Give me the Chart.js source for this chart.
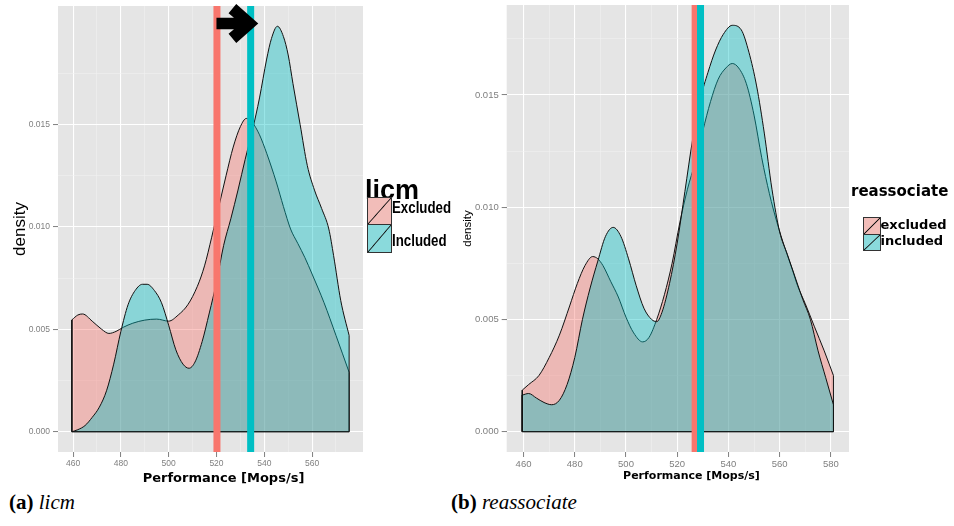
<!DOCTYPE html>
<html><head><meta charset="utf-8">
<script src="https://cdn.jsdelivr.net/npm/chart.js@4.4.1/dist/chart.umd.min.js"></script>
<style>
html,body{margin:0;padding:0;background:#fff;width:954px;height:526px;overflow:hidden;position:relative}
canvas{position:absolute}
.t{position:absolute;white-space:nowrap;line-height:1;color:#000}
.xt{font-family:"DejaVu Sans";font-weight:bold;transform:translateX(-50%)}
.cap{font-family:"Liberation Serif","Times New Roman",serif;font-size:21px}
.key{position:absolute;box-sizing:border-box;border:1px solid #333}
</style></head><body>
<canvas id="c1" width="440" height="486" style="left:0;top:0;width:440px;height:486px"></canvas>
<canvas id="c2" width="514" height="486" style="left:440px;top:0;width:514px;height:486px"></canvas>

<div class="t xt" style="left:223.5px;top:471px;font-size:13px">Performance [Mops/s]</div>
<div class="t xt" style="left:691.5px;top:470.2px;font-size:11px">Performance [Mops/s]</div>

<div class="t" style="left:365px;top:177px;font-family:'Liberation Sans';font-weight:bold;font-size:27px">licm</div>
<div id="k1a" class="key" style="left:366.5px;top:197px;width:25px;height:28px"></div>
<div id="k1b" class="key" style="left:366.5px;top:224px;width:25px;height:29px"></div>
<div class="t" style="left:392px;top:199.8px;font-family:'Liberation Sans';font-weight:bold;font-size:16px;transform:scaleX(0.83);transform-origin:0 0">Excluded</div>
<div class="t" style="left:392px;top:233.2px;font-family:'Liberation Sans';font-weight:bold;font-size:16px;transform:scaleX(0.83);transform-origin:0 0">Included</div>

<div class="t" style="left:851px;top:184px;font-family:'DejaVu Sans';font-weight:bold;font-size:15px">reassociate</div>
<div id="k2a" class="key" style="left:863px;top:217px;width:18px;height:18px"></div>
<div id="k2b" class="key" style="left:863px;top:234px;width:18px;height:17px"></div>
<div class="t" style="left:880.5px;top:218px;font-family:'DejaVu Sans';font-weight:bold;font-size:13px">excluded</div>
<div class="t" style="left:880.5px;top:234px;font-family:'DejaVu Sans';font-weight:bold;font-size:13px">included</div>

<div class="t cap" style="left:9px;top:491.7px"><b>(a)</b> <i>licm</i></div>
<div class="t cap" style="left:451px;top:491.7px"><b>(b)</b> <i>reassociate</i></div>

<script>
// ---------------- data: licm ----------------
const licmExcludedX = [459.5,462,464,468,472,475,478,481,485,490,495,500,504,508,512,515,518,521,524,527,530,532.5,535,538,541,545,548,551,554,557,560,565,570,575.5];
const licmExcludedY = [0.00546,0.0057,0.00575,0.0054,0.0050,0.0048,0.0049,0.0051,0.0053,0.00545,0.0055,0.0054,0.0057,0.0062,0.0071,0.0081,0.0095,0.0110,0.0125,0.0139,0.0149,0.0153,0.0151,0.0145,0.0136,0.0122,0.0110,0.0099,0.0092,0.0085,0.0077,0.0063,0.0047,0.0029];
const licmIncludedX = [459.5,462,465,468,471,474,477,480,483,486,489,491,494,497,500,503,506,508.5,511,514,517,520,523,526,529,532,535,538,541,543,545.5,548,550,552,555,558,561,564,567,569,572,575.5];
const licmIncludedY = [0,0.0001,0.0003,0.0007,0.0012,0.0020,0.0033,0.0049,0.0062,0.0069,0.0072,0.0072,0.0069,0.0063,0.0052,0.0040,0.0033,0.0031,0.0034,0.0044,0.0058,0.0073,0.0091,0.0104,0.0118,0.0133,0.0147,0.0163,0.0182,0.0192,0.0198,0.0193,0.0184,0.0170,0.0150,0.0130,0.0118,0.0109,0.0099,0.0086,0.0064,0.0047];
const licmMeans = [520.2, 534.3];

// ---------------- data: reassociate ----------------
const reasExcludedX = [459.5,462,466,470,474,478,481,484,487,489,491,494,497,500,503,506.5,509,512,515,518,521,524,527,530,533,536,539,541.5,544,547,550,553,556,559,562,565,567,570,573.5,577.4,581];
const reasExcludedY = [0.00185,0.0021,0.0025,0.0033,0.0043,0.0056,0.0066,0.0074,0.0078,0.0077,0.0074,0.0067,0.0060,0.0051,0.0044,0.0040,0.0042,0.0050,0.0061,0.0075,0.0093,0.0108,0.0120,0.0134,0.0147,0.0157,0.0162,0.0164,0.0162,0.0155,0.0141,0.0122,0.0106,0.0093,0.0082,0.0072,0.0065,0.0057,0.0047,0.0036,0.0025];
const reasIncludedX = [459.5,462,465,468,471,474,477,480,483,486,489,492,495,498,501,504,507,510,512,514,517,520,523,526,529,532,535,538,541.5,545,548,551,554,557,560,563,566,569,572,575,578,581];
const reasIncludedY = [0.00163,0.0017,0.0015,0.0013,0.0012,0.0014,0.0021,0.0033,0.0050,0.0064,0.0076,0.0087,0.0091,0.0087,0.0077,0.0065,0.0055,0.0050,0.0049,0.0053,0.0066,0.0084,0.0107,0.0130,0.0148,0.0160,0.0170,0.0177,0.0181,0.0179,0.0169,0.0154,0.0133,0.0108,0.0089,0.0079,0.0069,0.0059,0.0050,0.0036,0.0024,0.0012];
const reasMeans = [527.0, 529.1];

// ---------------- tick labels ----------------
const licmXMajor = [460,480,500,520,540,560];
const licmXMinor = [470,490,510,530,550,570];
const reasXMajor = [460,480,500,520,540,560,580];
const reasXMinor = [470,490,510,530,550,570];
const yMajor = [0,0.005,0.010,0.015];
const yMinor = [0.0025,0.0075,0.0125,0.0175];

const groupNames = ['Excluded','Included'];
const fillColors = ['rgba(248,118,109,0.4)','rgba(0,191,196,0.4)'];
const lineColors = ['#F8766D','#00BFC4'];
const keyColors = ['#F2BDB9','#8ADADC'];

const has = (arr, v) => arr.some(a => Math.abs(a - v) < 1e-9);

const panelBg = {
  id: 'panelBg',
  beforeDraw(chart) {
    const {ctx, chartArea: a} = chart;
    ctx.save();
    ctx.fillStyle = '#E5E5E5';
    ctx.fillRect(a.left, a.top, a.right - a.left, a.bottom - a.top);
    ctx.restore();
  }
};

const arrowPlugin = {
  id: 'arrow',
  afterDatasetsDraw(chart) {
    if (!chart.options.plugins.arrow || !chart.options.plugins.arrow.show) return;
    const {ctx, chartArea: a, scales: {x}} = chart;
    const s = x.getPixelForValue(licmMeans[0]) - 0.5;
    const t = x.getPixelForValue(licmMeans[1]) + 7.6;
    const yc = a.top + 17.5;
    ctx.save();
    ctx.fillStyle = '#000';
    ctx.beginPath();
    ctx.moveTo(s, yc - 5.8);
    ctx.lineTo(t - 24.3, yc - 5.8);
    ctx.lineTo(t - 29.7, yc - 10.3);
    ctx.lineTo(t - 22, yc - 19.5);
    ctx.lineTo(t, yc);
    ctx.lineTo(t - 22, yc + 19.5);
    ctx.lineTo(t - 29.7, yc + 10.3);
    ctx.lineTo(t - 24.3, yc + 5.8);
    ctx.lineTo(s, yc + 5.8);
    ctx.closePath();
    ctx.fill();
    ctx.restore();
  }
};

function ggDensity(id, o) {
  const allX = o.series.flatMap(s => s.x);
  const allY = o.series.flatMap(s => s.y);
  const xmin = Math.min(...allX), xmax = Math.max(...allX), ymax = Math.max(...allY);
  const xr = xmax - xmin;
  const xLo = xmin - 0.05 * xr, xHi = xmax + 0.05 * xr;
  const yLo = -0.05 * ymax, yHi = ymax * 1.05;

  const datasets = [];
  o.series.forEach((s, i) => {
    const n = s.x.length;
    datasets.push({
      label: groupNames[i],
      data: s.x.map((x, j) => ({x, y: s.y[j]})),
      fill: 'origin', backgroundColor: fillColors[i],
      borderColor: '#111', borderWidth: 1, pointRadius: 0,
      cubicInterpolationMode: 'monotone', order: 10 - 2 * i
    });
    datasets.push({
      label: groupNames[i] + ' outline',
      data: [{x: s.x[0], y: s.y[0]}, {x: s.x[0], y: 0}, {x: s.x[n - 1], y: 0}, {x: s.x[n - 1], y: s.y[n - 1]}],
      fill: false, borderColor: '#111', borderWidth: 1, pointRadius: 0, tension: 0, order: 9 - 2 * i
    });
  });
  o.means.forEach((m, i) => {
    datasets.push({
      label: groupNames[i] + ' mean',
      data: [{x: m, y: yLo}, {x: m, y: yHi}],
      fill: false, borderColor: lineColors[i], borderWidth: 7, borderCapStyle: 'butt',
      pointRadius: 0, tension: 0, order: 1 - i
    });
  });

  const tickFont = {family: '"Liberation Sans", Arial, sans-serif', size: o.tickSize};
  const gridColor = (maj) => (c => (c.tick && has(maj, c.tick.value)) ? '#FFFFFF' : '#F2F2F2');
  const gridWidth = (maj) => (c => (c.tick && has(maj, c.tick.value)) ? 1.1 : 0.55);
  const tickCol = (maj) => (c => (c.tick && has(maj, c.tick.value)) ? '#7F7F7F' : 'rgba(0,0,0,0)');

  return new Chart(document.getElementById(id), {
    type: 'line',
    data: {datasets},
    plugins: [panelBg, arrowPlugin],
    options: {
      responsive: false, animation: false, events: [],
      layout: {autoPadding: false, padding: {left: 0, right: o.padRight, top: o.padTop, bottom: 0}},
      plugins: {legend: {display: false}, tooltip: {enabled: false}, arrow: {show: !!o.arrow}},
      scales: {
        x: {
          type: 'linear', min: xLo, max: xHi,
          afterBuildTicks: sc => { sc.ticks = [...o.xMajor, ...o.xMinor].filter(v => v >= xLo && v <= xHi).sort((a, b) => a - b).map(v => ({value: v})); },
          afterFit: sc => { sc.height = 34; sc.paddingLeft = 0; sc.paddingRight = 0; },
          ticks: {autoSkip: false, maxRotation: 0, minRotation: 0, padding: 2, color: '#7F7F7F', font: tickFont,
                  callback: v => has(o.xMajor, v) ? String(v) : ''},
          grid: {color: gridColor(o.xMajor), lineWidth: gridWidth(o.xMajor), tickColor: tickCol(o.xMajor), tickWidth: 1, tickLength: 5},
          border: {display: false}
        },
        y: {
          type: 'linear', min: yLo, max: yHi,
          afterBuildTicks: sc => { sc.ticks = [...yMajor, ...yMinor].filter(v => v >= yLo && v <= yHi).sort((a, b) => a - b).map(v => ({value: v})); },
          afterFit: sc => { sc.width = o.yWidth; sc.paddingTop = 0; sc.paddingBottom = 0; },
          ticks: {autoSkip: false, padding: 3, color: '#7F7F7F', font: tickFont,
                  callback: v => has(yMajor, v) ? v.toFixed(3) : ''},
          grid: {color: gridColor(yMajor), lineWidth: gridWidth(yMajor), tickColor: tickCol(yMajor), tickWidth: 1, tickLength: 5},
          border: {display: false},
          title: {display: true, text: 'density', color: '#000',
                  font: {family: '"Liberation Sans", Arial, sans-serif', size: o.yTitleSize, weight: 'normal'},
                  padding: {top: o.yTitlePad, bottom: 0}}
        }
      }
    }
  });
}

ggDensity('c1', {
  series: [{x: licmExcludedX, y: licmExcludedY}, {x: licmIncludedX, y: licmIncludedY}],
  means: licmMeans, xMajor: licmXMajor, xMinor: licmXMinor,
  padRight: 77, padTop: 6, yWidth: 58, tickSize: 8.5, yTitleSize: 17, yTitlePad: 9.8, arrow: true
});
ggDensity('c2', {
  series: [{x: reasExcludedX, y: reasExcludedY}, {x: reasIncludedX, y: reasIncludedY}],
  means: reasMeans, xMajor: reasXMajor, xMinor: reasXMinor,
  padRight: 105, padTop: 5, yWidth: 66.7, tickSize: 9.5, yTitleSize: 11.5, yTitlePad: 21.4, arrow: false
});

// legend keys (fill + diagonal slash as in the reference)
[['k1a', 0], ['k1b', 1], ['k2a', 0], ['k2b', 1]].forEach(([id, i]) => {
  document.getElementById(id).style.background =
    'linear-gradient(to bottom right, rgba(0,0,0,0) calc(50% - 0.9px), #111 50%, rgba(0,0,0,0) calc(50% + 0.9px)), ' + keyColors[i];
});
</script>
</body></html>
